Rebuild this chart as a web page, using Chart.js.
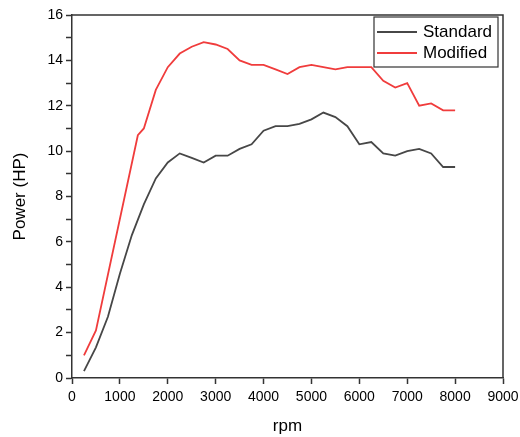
<!DOCTYPE html>
<html>
<head>
<meta charset="utf-8">
<script src="https://cdn.jsdelivr.net/npm/chart.js@4.4.1/dist/chart.umd.min.js"></script>
<style>
  html, body { margin: 0; padding: 0; background: #fff; }
  #wrap { width: 520px; height: 437px; position: relative; }
</style>
</head>
<body>
<div id="wrap"><canvas id="powerChart"></canvas></div>
<script>
// rpm vs power data
const standardRpm = [250, 500, 750, 1000, 1250, 1500, 1750, 2000, 2250, 2500, 2750, 3000, 3250, 3500, 3750, 4000,
    4250, 4500, 4750, 5000, 5250, 5500, 5750, 6000, 6250, 6500, 6750, 7000, 7250, 7500, 7750, 8000];
const standardHp = [0.3, 1.35, 2.7, 4.6, 6.3, 7.65, 8.8, 9.5, 9.9, 9.7, 9.5, 9.8, 9.8, 10.1, 10.3, 10.9,
    11.1, 11.1, 11.2, 11.4, 11.7, 11.5, 11.1, 10.3, 10.4, 9.9, 9.8, 10.0, 10.1, 9.9, 9.3, 9.3];

const modifiedRpm = [250, 500, 1375, 1500, 1750, 2000, 2250, 2500, 2750, 3000, 3250, 3500, 3750, 4000,
    4250, 4500, 4750, 5000, 5250, 5500, 5750, 6000, 6250, 6500, 6750, 7000, 7250, 7500, 7750, 8000];
const modifiedHp = [1.0, 2.1, 10.7, 11.0, 12.7, 13.7, 14.3, 14.6, 14.8, 14.7, 14.5, 14.0, 13.8, 13.8,
    13.6, 13.4, 13.7, 13.8, 13.7, 13.6, 13.7, 13.7, 13.7, 13.1, 12.8, 13.0, 12.0, 12.1, 11.8, 11.8];

const seriesLabels = ['Standard', 'Modified'];
const seriesColors = ['#474747', '#f03c3c'];

function toPoints(xs, ys) {
    return xs.map((x, i) => ({ x: x, y: ys[i] }));
}

const FONT = 'Arial, "Liberation Sans", sans-serif';

// frame on top and right
const framePlugin = {
    id: 'frame',
    afterDraw(chart) {
        const { ctx, chartArea: a } = chart;
        ctx.save();
        ctx.strokeStyle = '#333';
        ctx.lineWidth = 1.5;
        ctx.beginPath();
        ctx.moveTo(a.left, a.top);
        ctx.lineTo(a.right, a.top);
        ctx.lineTo(a.right, a.bottom);
        ctx.stroke();
        ctx.restore();
    }
};

// boxed legend in the top right corner
const boxLegendPlugin = {
    id: 'boxLegend',
    afterDraw(chart) {
        const ctx = chart.ctx;
        const a = chart.chartArea;
        const x0 = a.right - 129, y0 = a.top + 2, w = 124, h = 50;
        ctx.save();
        ctx.fillStyle = '#fff';
        ctx.fillRect(x0, y0, w, h);
        ctx.strokeStyle = '#333';
        ctx.lineWidth = 1.2;
        ctx.strokeRect(x0, y0, w, h);
        ctx.font = '17px ' + FONT;
        ctx.textBaseline = 'middle';
        chart.data.datasets.forEach((ds, i) => {
            const cy = y0 + 15 + i * 21;
            ctx.strokeStyle = ds.borderColor;
            ctx.lineWidth = 1.8;
            ctx.beginPath();
            ctx.moveTo(x0 + 3, cy);
            ctx.lineTo(x0 + 43, cy);
            ctx.stroke();
            ctx.fillStyle = '#000';
            ctx.fillText(ds.label, x0 + 49, cy);
        });
        ctx.restore();
    }
};

new Chart(document.getElementById('powerChart'), {
    type: 'line',
    data: {
        datasets: [{
            label: seriesLabels[0],
            data: toPoints(standardRpm, standardHp),
            borderColor: seriesColors[0],
            borderWidth: 1.8,
            pointRadius: 0,
            tension: 0,
            fill: false
        }, {
            label: seriesLabels[1],
            data: toPoints(modifiedRpm, modifiedHp),
            borderColor: seriesColors[1],
            borderWidth: 1.8,
            pointRadius: 0,
            tension: 0,
            fill: false
        }]
    },
    options: {
        responsive: true,
        maintainAspectRatio: false,
        animation: false,
        layout: { padding: { top: 15, right: 17, left: 2, bottom: 0 } },
        plugins: {
            legend: { display: false },
            tooltip: { enabled: false }
        },
        scales: {
            x: {
                type: 'linear',
                min: 0,
                max: 9000,
                ticks: {
                    stepSize: 1000,
                    color: '#000',
                    font: { family: FONT, size: 14 },
                    padding: 5,
                    maxRotation: 0,
                    callback: function(value) {
                        return String(value);
                    }
                },
                grid: {
                    display: true,
                    drawOnChartArea: false,
                    drawTicks: true,
                    tickLength: 6,
                    tickColor: '#333',
                    tickWidth: 1.5
                },
                border: { display: true, color: '#333', width: 1.5 },
                title: {
                    display: true,
                    text: 'rpm',
                    color: '#000',
                    font: { family: FONT, size: 17 },
                    padding: { top: 6, bottom: 0 }
                },
                afterFit(scale) {
                    scale.height = 59;
                    scale.paddingLeft = 0;
                    scale.paddingRight = 0;
                }
            },
            y: {
                min: 0,
                max: 16,
                ticks: {
                    stepSize: 1,
                    color: '#000',
                    font: { family: FONT, size: 14 },
                    padding: 3,
                    callback: function(value) {
                        return value % 2 === 0 ? value : '';
                    }
                },
                grid: {
                    display: true,
                    drawOnChartArea: false,
                    drawTicks: true,
                    tickLength: 6,
                    tickColor: '#333',
                    tickWidth: 1.5
                },
                border: { display: true, color: '#333', width: 1.5 },
                title: {
                    display: true,
                    text: 'Power (HP)',
                    color: '#000',
                    font: { family: FONT, size: 17 },
                    padding: { top: 8, bottom: 0 }
                },
                afterFit(scale) {
                    scale.width = 70;
                    scale.paddingTop = 0;
                    scale.paddingBottom = 0;
                }
            }
        }
    },
    plugins: [framePlugin, boxLegendPlugin]
});
</script>
</body>
</html>
